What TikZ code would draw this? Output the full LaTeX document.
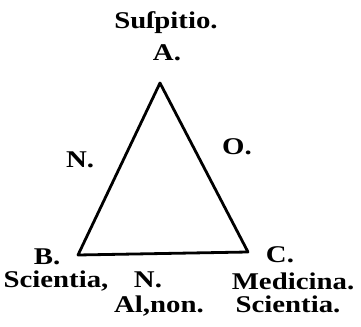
\documentclass[tikz,border=0pt]{standalone}
\usepackage{fontspec}
\setmainfont{Liberation Serif}[FakeStretch=1.2]
\begin{document}
\begin{tikzpicture}[x=0.5pt,y=-0.5pt,
  lbl/.style={anchor=base,inner sep=0pt,font=\fontsize{12}{14}\selectfont\bfseries},
  edge/.style={line width=1.4pt,line join=round,line cap=round}]
\useasboundingbox (0,0) rectangle (361,327);
\coordinate (a) at (160,83);
\coordinate (b) at (78,255);
\coordinate (c) at (248,252);
\draw[edge] (a) -- (b) -- (c) -- cycle;
\node[lbl] (sus) at (166,28) {Suſpitio.};
\node[lbl] (la) at (167,60) {A.};
\node[lbl] (ln) at (80,168) {N.};
\node[lbl] (lo) at (237,155) {O.};
\node[lbl] (lb) at (47,265) {B.};
\node[lbl] (lc) at (280,263) {C.};
\node[lbl] (sb) at (56,288) {Scientia,};
\node[lbl] (nb) at (148,288) {N.};
\node[lbl] (med) at (293,290) {Medicina.};
\node[lbl] (al) at (159,313) {Al,non.};
\node[lbl] (sc) at (288,313) {Scientia.};
\end{tikzpicture}
\end{document}
